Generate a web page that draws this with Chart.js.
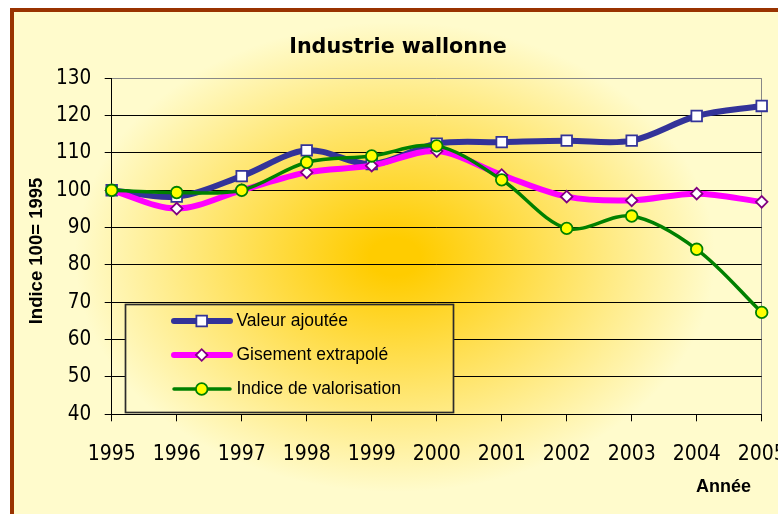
<!DOCTYPE html>
<html>
<head>
<meta charset="utf-8">
<script src="https://cdn.jsdelivr.net/npm/chart.js@4/dist/chart.umd.min.js"></script>
<style>
html,body{margin:0;padding:0;width:778px;height:514px;overflow:hidden;background:#fff;}
#wrap{position:absolute;left:0;top:0;width:778px;height:514px;}
</style>
</head>
<body>
<div id="wrap"><canvas id="c" width="778" height="514"></canvas></div>
<script>
// ---- data ----
const TITLE = 'Industrie wallonne';
const Y_TITLE = 'Indice 100= 1995';
const X_TITLE = 'Année';
const years = ['1995','1996','1997','1998','1999','2000','2001','2002','2003','2004','2005'];
const seriesNames = ['Valeur ajoutée', 'Gisement extrapolé', 'Indice de valorisation'];
const valeurAjoutee = [100, 98.3, 103.8, 110.7, 107.0, 112.5, 112.9, 113.3, 113.3, 119.9, 122.6];
const gisementExtrapole = [100, 95.1, 100.0, 104.8, 106.6, 110.5, 104.1, 98.3, 97.3, 99.1, 96.9];
const indiceValorisation = [100, 99.4, 100.0, 107.5, 109.2, 111.9, 102.8, 89.8, 93.1, 84.2, 67.3];
const yMin = 40, yMax = 130, yStep = 10;

const TICK_FONT = '"Liberation Sans Narrow", "Arial Narrow", "DejaVu Sans Condensed", "Liberation Sans", sans-serif';

// ---- background (frame + centre gradient) ----
const GX = 395, GY = 257, RX = 320, RY = 235;
function paintGradient(ctx, x, y, w, h) {
  ctx.save();
  ctx.beginPath(); ctx.rect(x, y, w, h); ctx.clip();
  ctx.translate(GX, GY); ctx.scale(RX / RY, 1);
  const g = ctx.createRadialGradient(0, 0, 0, 0, 0, RY);
  g.addColorStop(0, '#FFCC00');
  g.addColorStop(0.08, '#FFCC00');
  g.addColorStop(1, '#FFFBCC');
  ctx.fillStyle = g;
  ctx.fillRect(-2000, -2000, 4000, 4000);
  ctx.restore();
}
const bgPlugin = {
  id: 'bg',
  beforeDraw(chart) {
    const ctx = chart.ctx;
    ctx.save();
    ctx.fillStyle = '#ffffff'; ctx.fillRect(0, 0, 778, 514);
    ctx.fillStyle = '#993300'; ctx.fillRect(10, 8, 900, 700);
    ctx.restore();
    paintGradient(ctx, 14, 12, 900, 700);
  }
};

// ---- titles ----
const textPlugin = {
  id: 'texts',
  afterDraw(chart) {
    const ctx = chart.ctx;
    ctx.save();
    ctx.fillStyle = '#000';
    ctx.textBaseline = 'alphabetic';
    ctx.font = 'bold 20.7px "DejaVu Sans"';
    ctx.textAlign = 'center';
    ctx.fillText(TITLE, 398, 52.7);
    ctx.font = 'bold 18px "Liberation Sans"';
    ctx.textAlign = 'left';
    ctx.fillText(X_TITLE, 696, 492.3);
    ctx.font = 'bold 18.5px "Liberation Sans"';
    ctx.translate(41.5, 251); ctx.rotate(-Math.PI / 2);
    ctx.textAlign = 'center';
    ctx.fillText(Y_TITLE, 0, 0);
    ctx.restore();
  }
};

// ---- legend box inside plot ----
const legendPlugin = {
  id: 'boxLegend',
  afterDraw(chart) {
    const ctx = chart.ctx;
    const bx = 125.5, by = 304.5, bw = 328, bh = 108;
    paintGradient(ctx, bx, by, bw, bh);
    ctx.save();
    ctx.strokeStyle = '#2b2b2b'; ctx.lineWidth = 1.7;
    ctx.strokeRect(bx, by, bw, bh);
    const rows = [321, 355, 389];
    chart.data.datasets.forEach((ds, i) => {
      const y = rows[i];
      ctx.beginPath();
      ctx.strokeStyle = ds.borderColor; ctx.lineWidth = ds.borderWidth; ctx.lineCap = 'round';
      ctx.moveTo(174, y); ctx.lineTo(230, y); ctx.stroke();
      ctx.fillStyle = ds.pointBackgroundColor;
      ctx.strokeStyle = ds.pointBorderColor;
      ctx.lineWidth = ds.pointBorderWidth;
      Chart.helpers.drawPoint(ctx, {pointStyle: ds.pointStyle, radius: ds.pointRadius,
        rotation: 0, borderWidth: ds.pointBorderWidth}, 201.7, y);
      ctx.fillStyle = '#000';
      ctx.font = '17.5px "Liberation Sans"';
      ctx.textAlign = 'left'; ctx.textBaseline = 'middle';
      ctx.fillText(ds.label, 236.5, y);
    });
    ctx.restore();
  }
};

Chart.defaults.font.family = '"Liberation Sans", Arial, sans-serif';
Chart.defaults.color = '#000';

new Chart(document.getElementById('c'), {
  type: 'line',
  data: {
    labels: years,
    datasets: [
      {label: seriesNames[0], data: valeurAjoutee, order: 3,
       borderColor: '#333399', borderWidth: 6, tension: 0.33,
       borderCapStyle: 'round', borderJoinStyle: 'round',
       pointStyle: 'rect', pointRadius: 7.5, pointBackgroundColor: '#ffffff',
       pointBorderColor: '#333399', pointBorderWidth: 1.8},
      {label: seriesNames[1], data: gisementExtrapole, order: 2,
       borderColor: '#FF00FF', borderWidth: 6, tension: 0.33,
       borderCapStyle: 'round', borderJoinStyle: 'round',
       pointStyle: 'rectRot', pointRadius: 5.8, pointBackgroundColor: '#ffffff',
       pointBorderColor: '#800080', pointBorderWidth: 1.8},
      {label: seriesNames[2], data: indiceValorisation, order: 1,
       borderColor: '#008000', borderWidth: 3.5, tension: 0.33,
       borderCapStyle: 'round', borderJoinStyle: 'round',
       pointStyle: 'circle', pointRadius: 5.8, pointBackgroundColor: '#FFFF00',
       pointBorderColor: '#008000', pointBorderWidth: 1.8}
    ]
  },
  options: {
    responsive: false,
    animation: false,
    devicePixelRatio: 1,
    layout: {padding: {left: 0, top: 78.3, right: 16.3, bottom: 0}},
    plugins: {legend: {display: false}, title: {display: false}, tooltip: {enabled: false}},
    scales: {
      x: {
        type: 'category', offset: false,
        grid: {
          drawOnChartArea: true, tickLength: 7, lineWidth: 1,
          color: (c) => (c.index === years.length - 1 ? '#888888' : 'rgba(0,0,0,0)'),
          tickColor: '#000'
        },
        border: {color: '#000', width: 1},
        ticks: {font: {size: 21, family: TICK_FONT}, padding: 20.5, maxRotation: 0, autoSkip: false, color: '#000'},
        afterFit(s) { s.height = 99.7; s.paddingLeft = 0; s.paddingRight = 0; }
      },
      y: {
        min: yMin, max: yMax,
        grid: {
          tickLength: 7, lineWidth: 1,
          color: (c) => (c.tick && c.tick.value === yMax ? '#888888' : '#000'),
          tickColor: '#000'
        },
        border: {color: '#000', width: 1},
        ticks: {stepSize: yStep, font: {size: 20.5, family: TICK_FONT}, padding: 13.5, color: '#000'},
        afterFit(s) { s.width = 111.7; s.paddingTop = 0; s.paddingBottom = 0; }
      }
    }
  },
  plugins: [bgPlugin, legendPlugin, textPlugin]
});
</script>
</body>
</html>
